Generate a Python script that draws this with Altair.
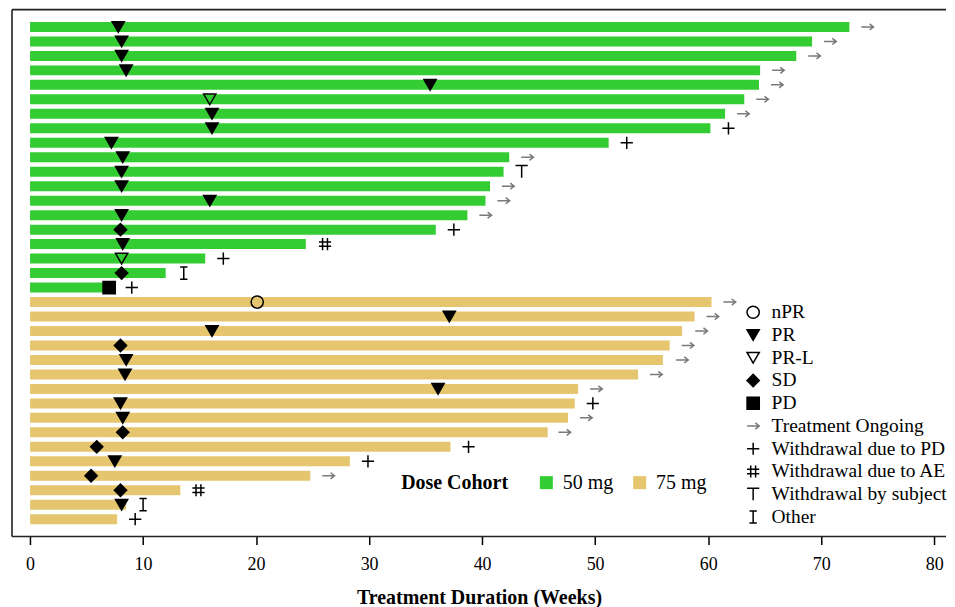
import altair as alt
import pandas as pd

# ---------------- data ----------------
dose_groups = ["50 mg"] * 19 + ["75 mg"] * 16

durations = [72.5, 69.2, 67.8, 64.6, 64.5, 63.2, 61.5, 60.2, 51.2, 42.4,
             41.9, 40.7, 40.3, 38.7, 35.9, 24.4, 15.5, 12.0, 6.9,
             60.3, 58.8, 57.7, 56.6, 56.0, 53.8, 48.5, 48.2, 47.6, 45.8,
             37.2, 28.3, 24.8, 13.3, 8.5, 7.7]

resp_types = ["PR", "PR", "PR", "PR", "PR", "PR-L", "PR", "PR", "PR", "PR",
              "PR", "PR", "PR", "PR", "SD", "PR", "PR-L", "SD", "PD",
              "nPR", "PR", "PR", "SD", "PR", "PR", "PR", "PR", "PR", "SD",
              "SD", "PR", "SD", "SD", "PR", None]
resp_times = [7.8, 8.1, 8.1, 8.5, 35.4, 15.9, 16.1, 16.1, 7.2, 8.2,
              8.1, 8.1, 15.9, 8.1, 8.0, 8.2, 8.1, 8.1, 7.0,
              20.1, 37.1, 16.1, 8.0, 8.5, 8.4, 36.1, 8.0, 8.2, 8.2,
              5.9, 7.5, 5.4, 8.0, 8.1, None]

end_types = ["Treatment Ongoing"] * 7 + ["Withdrawal due to PD", "Withdrawal due to PD",
             "Treatment Ongoing", "Withdrawal by subject", "Treatment Ongoing",
             "Treatment Ongoing", "Treatment Ongoing", "Withdrawal due to PD",
             "Withdrawal due to AE", "Withdrawal due to PD", "Other",
             "Withdrawal due to PD"] + \
            ["Treatment Ongoing"] * 7 + ["Withdrawal due to PD", "Treatment Ongoing",
             "Treatment Ongoing", "Withdrawal due to PD", "Withdrawal due to PD",
             "Treatment Ongoing", "Withdrawal due to AE", "Other", "Withdrawal due to PD"]
end_times = [74.1, 70.8, 69.4, 66.2, 66.1, 64.8, 63.1, 61.8, 52.8, 44.0,
             43.5, 42.3, 41.9, 40.3, 37.5, 26.1, 17.1, 13.6, 9.0,
             61.9, 60.4, 59.4, 58.2, 57.7, 55.4, 50.1, 49.8, 49.2, 47.3,
             38.8, 29.9, 26.4, 14.9, 10.0, 9.3]

x_ticks = [0, 10, 20, 30, 40, 50, 60, 70, 80]

event_order = ["nPR", "PR", "PR-L", "SD", "PD", "Treatment Ongoing",
               "Withdrawal due to PD", "Withdrawal due to AE",
               "Withdrawal by subject", "Other"]
event_shapes = ["circle", "triangle-down", "triangle-down", "diamond", "square",
                "M-1,0L1,0M0.35,-0.5L1,0L0.35,0.5",
                "M-1,0L1,0M0,-1L0,1",
                "M-0.4,-1L-0.4,1M0.4,-1L0.4,1M-1,-0.35L1,-0.35M-1,0.35L1,0.35",
                "M-1,-1L1,-1M0,-1L0,1",
                "M-0.6,-1L0.6,-1M0,-1L0,1M-0.6,1L0.6,1"]
event_fills = ["transparent", "black", "transparent", "black", "black",
               "transparent", "transparent", "transparent", "transparent", "transparent"]
event_strokes = ["black", "black", "black", "black", "black",
                 "#7a7a7a", "black", "black", "black", "black"]

dose_domain = ["50 mg", "75 mg"]
dose_colors = ["#33CC33", "#E5C66E"]

# ---------------- tables ----------------
n = len(durations)
bars = pd.DataFrame({"row": list(range(n)), "dose": dose_groups,
                     "start": [0.0] * n, "duration": durations})

ev_rows, ev_x, ev_type = [], [], []
for i in range(n):
    if resp_types[i] is not None:
        ev_rows.append(i); ev_x.append(resp_times[i]); ev_type.append(resp_types[i])
    ev_rows.append(i); ev_x.append(end_times[i]); ev_type.append(end_types[i])
events = pd.DataFrame({"row": ev_rows, "x": ev_x, "event": ev_type})

W, H = 936, 528
FONT = "Liberation Serif"

xscale = alt.Scale(domain=[-1.6, 81.05], nice=False, zero=False)
yscale = alt.Scale(paddingInner=0.31, paddingOuter=0.85)

bar_layer = alt.Chart(bars).mark_bar().encode(
    x=alt.X("start:Q", scale=xscale,
            axis=alt.Axis(values=x_ticks, title="Treatment Duration (Weeks)",
                          grid=False, domain=False, tickSize=8, tickWidth=1.5,
                          tickColor="black", labelFont=FONT, labelFontSize=18,
                          labelColor="black", labelPadding=11, titleFont=FONT,
                          titleFontSize=20, titleFontWeight="bold",
                          titleColor="black", titlePadding=14)),
    x2="duration:Q",
    y=alt.Y("row:O", scale=yscale, axis=None),
    color=alt.Color("dose:N", scale=alt.Scale(domain=dose_domain, range=dose_colors),
                    legend=alt.Legend(title="Dose Cohort", orient="none",
                                      direction="horizontal", titleOrient="left",
                                      legendX=390, legendY=464,
                                      titleFont=FONT, titleFontSize=20,
                                      titleFontWeight="bold", titleColor="black",
                                      titlePadding=27.5, titleBaseline="middle",
                                      labelFont=FONT, labelFontSize=20,
                                      labelColor="black", labelOffset=6.5,
                                      columnPadding=15.5, symbolType="square",
                                      symbolSize=170, symbolStrokeWidth=0,
                                      padding=0)),
)

ev_legend = alt.Legend(title=None, orient="none", legendX=733, legendY=293.5,
                       labelFont=FONT, labelFontSize=19.5, labelColor="black",
                       labelOffset=8.7, rowPadding=1.8, symbolSize=150,
                       symbolStrokeWidth=1.5, labelLimit=400, padding=0)

event_layer = alt.Chart(events).mark_point(opacity=1, size=150, strokeWidth=1.5).encode(
    x=alt.X("x:Q", scale=xscale),
    y=alt.Y("row:O", scale=yscale, axis=None),
    shape=alt.Shape("event:N", scale=alt.Scale(domain=event_order, range=event_shapes),
                    legend=ev_legend),
    fill=alt.Fill("event:N", scale=alt.Scale(domain=event_order, range=event_fills),
                  legend=ev_legend),
    stroke=alt.Stroke("event:N", scale=alt.Scale(domain=event_order, range=event_strokes),
                      legend=ev_legend),
)

frame_df = pd.DataFrame({"k": [0]})
frame_top = alt.Chart(frame_df).mark_rule(color="#222222", strokeWidth=1.6).encode(
    x=alt.value(0), x2=alt.value(W), y=alt.value(0))
frame_bottom = alt.Chart(frame_df).mark_rule(color="#222222", strokeWidth=1.6).encode(
    x=alt.value(0), x2=alt.value(W), y=alt.value(H))
frame_left = alt.Chart(frame_df).mark_rule(color="#222222", strokeWidth=1.6).encode(
    x=alt.value(0), y=alt.value(0), y2=alt.value(H))

chart = alt.layer(bar_layer, event_layer, frame_top, frame_bottom, frame_left).resolve_scale(
    x="shared", y="shared"
).properties(
    width=W, height=H,
    padding={"left": 3, "top": 0, "right": 0, "bottom": 0},
).configure(font=FONT).configure_view(stroke="transparent", strokeWidth=0)

chart.save("out.html", embed_options={"renderer": "svg", "actions": False})
